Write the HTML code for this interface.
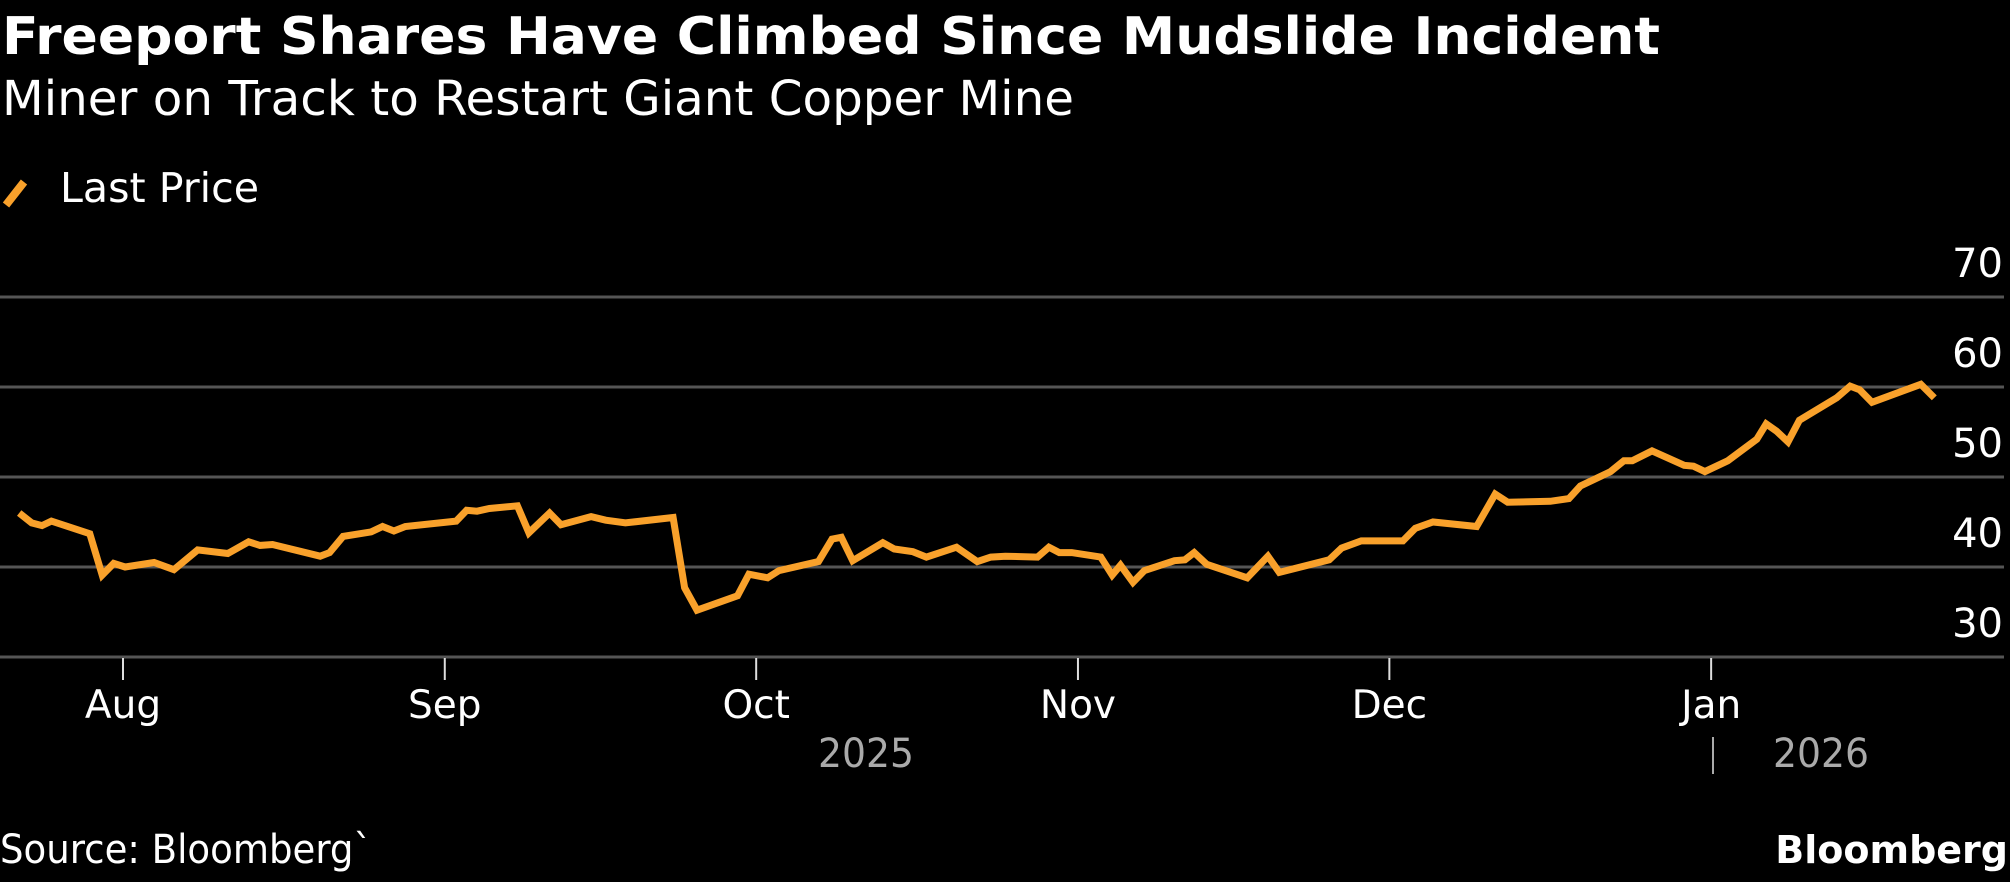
<!DOCTYPE html>
<html><head><meta charset="utf-8"><style>
html,body{margin:0;padding:0;background:#000;}
svg{display:block;font-family:"DejaVu Sans","Liberation Sans",sans-serif;}
</style></head><body>
<svg id="chart" width="2010" height="882" viewBox="0 0 2010 882">
<text x="2" y="54" font-size="52" font-weight="bold" fill="#fff" textLength="1658" lengthAdjust="spacingAndGlyphs">Freeport Shares Have Climbed Since Mudslide Incident</text>
<text x="2" y="115" font-size="48" fill="#fff" textLength="1072" lengthAdjust="spacingAndGlyphs">Miner on Track to Restart Giant Copper Mine</text>
<g>
<line x1="6" y1="205" x2="24" y2="182" stroke="#f9a12b" stroke-width="8"/>
<text x="60" y="202" font-size="41" fill="#fff" textLength="199" lengthAdjust="spacingAndGlyphs">Last Price</text>
</g>
<g id="grid"></g><g id="yticks"></g><g id="xaxis"></g><g id="series"></g>
<text x="866" y="767" font-size="40" fill="#aaa" text-anchor="middle" textLength="96" lengthAdjust="spacingAndGlyphs">2025</text>
<line x1="1713" y1="737" x2="1713" y2="774" stroke="#aaa" stroke-width="2"/>
<text x="1821" y="767" font-size="40" fill="#aaa" text-anchor="middle" textLength="96" lengthAdjust="spacingAndGlyphs">2026</text>
<text x="0" y="863" font-size="40" fill="#fff" textLength="372" lengthAdjust="spacingAndGlyphs">Source: Bloomberg`</text>
<text x="2008" y="863" font-size="38" font-weight="bold" fill="#fff" text-anchor="end">Bloomberg</text>
</svg>
<script>
// day offsets from Aug 1 2025, and prices
const days=[-10,-8.8,-7.8,-6.9,-3.2,-2,-0.9,0.2,3,4.9,7.2,10.1,12.1,13.2,14.4,19,19.9,21.2,23.9,25,26.1,27.2,32.1,33.1,34.1,35.3,38,39.1,41.1,42.2,45.1,46.5,48.4,53,54.1,55.3,59.2,60.3,62.1,63.2,67,68.3,69.2,70.3,73.2,74.3,76.1,77.4,80.3,82.3,83.6,85,88.1,89.2,90.2,91.4,94.2,95.3,96.1,97.3,98.4,101.3,102.3,103.2,104.4,108.3,110.3,111.4,116.2,117.4,119.3,123.3,124.5,126.2,130.4,132.2,133.4,137.5,139.3,140.4,143.3,144.6,145.4,147.3,150.4,151.3,152.4,154.6,157.4,158.3,159.3,160.4,161.5,165.1,166.4,167.3,168.5,173.2,174.5];
const prices=[46.0,44.9,44.6,45.1,43.7,39.1,40.4,40.0,40.5,39.7,41.9,41.5,42.8,42.4,42.5,41.2,41.6,43.4,43.9,44.5,44.0,44.5,45.1,46.3,46.2,46.5,46.8,43.8,46.0,44.7,45.6,45.2,44.9,45.5,37.7,35.2,36.8,39.2,38.8,39.6,40.6,43.1,43.3,40.7,42.7,42.0,41.7,41.1,42.2,40.6,41.1,41.2,41.1,42.2,41.6,41.6,41.1,39.1,40.2,38.3,39.6,40.7,40.8,41.6,40.3,38.8,41.2,39.4,40.8,42.1,42.9,42.9,44.3,45.0,44.5,48.1,47.2,47.3,47.6,49.0,50.6,51.8,51.8,52.9,51.3,51.2,50.6,51.8,54.2,55.9,55.1,53.9,56.3,58.8,60.1,59.7,58.3,60.3,58.8];
const yTicks=[30,40,50,60,70];
const monthLabels=["Aug","Sep","Oct","Nov","Dec","Jan"];
const monthDays=[0,31,61,92,122,153];
const NS="http://www.w3.org/2000/svg";
const xS=d=>123+d*10.38;
const yS=v=>657-(v-30)*9;
function mk(tag,attrs,parent){const e=document.createElementNS(NS,tag);for(const k in attrs)e.setAttribute(k,attrs[k]);parent.appendChild(e);return e;}
const grid=document.getElementById('grid'),yt=document.getElementById('yticks'),xa=document.getElementById('xaxis'),ser=document.getElementById('series');
yTicks.forEach(v=>{
 const l=mk('line',{x1:0,x2:2004,y1:yS(v),y2:yS(v),stroke:'#555','stroke-width':3},grid);
 
 
 const t=mk('text',{x:2003,y:yS(v)-20,'font-size':40,fill:'#fff','text-anchor':'end'},yt);
 t.textContent=v;
 
 
});
monthLabels.forEach((m,i)=>{
 const x=xS(monthDays[i]);
 const l=mk('line',{x1:x,x2:x,y1:658,y2:680,stroke:'#ddd','stroke-width':2},xa);
 
 
 const t=mk('text',{x:x,y:718,'font-size':39,fill:'#fff','text-anchor':'middle'},xa);
 t.textContent=m;
 
 
});
const p=mk('polyline',{points:days.map((d,i)=>xS(d).toFixed(1)+','+yS(prices[i]).toFixed(1)).join(' '),fill:'none',stroke:'#f9a12b','stroke-width':7,'stroke-linejoin':'miter','stroke-miterlimit':3},ser);


</script>
</body></html>
